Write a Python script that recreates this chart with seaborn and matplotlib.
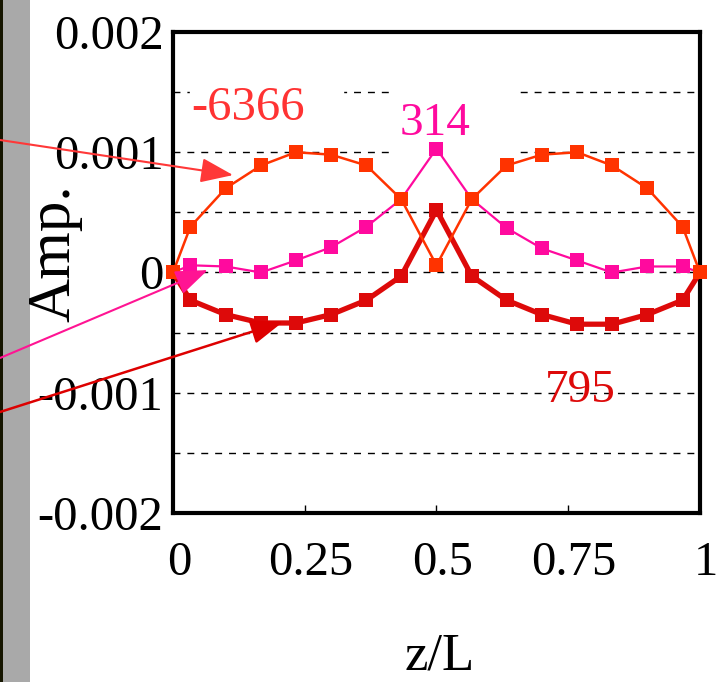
import matplotlib
matplotlib.use("Agg")
import matplotlib.pyplot as plt
from matplotlib.patches import Rectangle
from matplotlib.ticker import MultipleLocator, FixedLocator
import matplotlib.transforms as mtransforms
import seaborn as sns

# values
z = [0, 0.033, 0.1, 0.167, 0.233, 0.3, 0.367, 0.433, 0.5,
     0.567, 0.633, 0.7, 0.767, 0.833, 0.9, 0.967, 1]
amp_6366 = [0, 0.00038, 0.00070, 0.00089, 0.00100, 0.00098, 0.00089, 0.00061, 0.00006,
            0.00061, 0.00089, 0.00098, 0.00100, 0.00089, 0.00070, 0.00038, 0]
amp_314 = [0, 0.00006, 0.00005, 0.0, 0.00010, 0.00021, 0.00038, 0.00061, 0.00103,
           0.00061, 0.00037, 0.00020, 0.00010, 0.0, 0.00005, 0.00005, 0]
amp_795 = [0, -0.00023, -0.00035, -0.00042, -0.00042, -0.00035, -0.00023, -0.00003, 0.00052,
           -0.00003, -0.00023, -0.00035, -0.00043, -0.00043, -0.00035, -0.00023, 0]

yticks = [-0.002, -0.001, 0, 0.001, 0.002]
ytick_labels = ["-0.002", "-0.001", "0", "0.001", "0.002"]
xticks = [0, 0.25, 0.5, 0.75, 1]
xtick_labels = ["0", "0.25", "0.5", "0.75", "1"]

c_orange = "#FF3300"
c_pink = "#FF0A9E"
c_red = "#DD0A0A"

sns.set_theme(style="white")
plt.rcParams["font.family"] = ["Liberation Serif", "DejaVu Serif"]

fig = plt.figure(figsize=(7.25, 6.82), dpi=100)
ax = fig.add_axes([0.2386, 0.2478, 0.7269, 0.7053])
ax.set_zorder(1)
ax.patch.set_alpha(0)

# grey strip at the left edge (below everything)
strip = Rectangle((3 / 725, 0), 27 / 725, 1, transform=fig.transFigure,
                  facecolor="#A9A9A9", edgecolor="none", zorder=-2)
edge = Rectangle((0, 0), 3 / 725, 1, transform=fig.transFigure,
                 facecolor="#151500", edgecolor="none", zorder=-2)
fig.add_artist(strip)
fig.add_artist(edge)

# series
sns.lineplot(x=z, y=amp_795, ax=ax, color=c_red, lw=3.8, marker="s", markersize=9.5,
             markeredgewidth=0, clip_on=False, zorder=3)
sns.lineplot(x=z, y=amp_314, ax=ax, color=c_pink, lw=1.6, marker="s", markersize=9.5,
             markeredgewidth=0, clip_on=False, zorder=4)
sns.lineplot(x=z, y=amp_6366, ax=ax, color=c_orange, lw=1.8, marker="s", markersize=9.5,
             markeredgewidth=0, clip_on=False, zorder=5)

ax.set_xlim(0, 1)
ax.set_ylim(-0.002, 0.002)

# dashed grid every 0.0005
ax.yaxis.set_major_locator(FixedLocator(yticks))
ax.yaxis.set_minor_locator(MultipleLocator(0.0005))
ax.grid(axis="y", which="both", color="black", lw=1, ls=(0, (5, 5)), zorder=1)
ax.grid(axis="x", visible=False)
ax.set_axisbelow(True)

# white label backgrounds that break the grid
ax.add_patch(Rectangle((0.032, 0.85), 0.291, 0.05, transform=ax.transAxes,
                       color="white", zorder=1.5))
ax.add_patch(Rectangle((0.417, 0.72), 0.232, 0.18, transform=ax.transAxes,
                       color="white", zorder=1.5))

ax.set_yticks(yticks)
ax.set_yticklabels(ytick_labels)
ax.set_xticks(xticks)
ax.set_xticklabels(xtick_labels)
ax.tick_params(axis="y", which="both", length=0, pad=7, labelsize=35, labelcolor="black")
ax.tick_params(axis="x", which="major", direction="in", length=6, width=1, color="black",
               pad=20, labelsize=35, labelcolor="black", bottom=True, top=False)
shift = mtransforms.ScaledTranslation(6 / 100, 0, fig.dpi_scale_trans)
for lab in ax.get_xticklabels():
    lab.set_transform(lab.get_transform() + shift)

for sp in ax.spines.values():
    sp.set_color("black")
    sp.set_linewidth(3)

ax.set_xlabel("z/L", fontsize=38, color="black")
ax.xaxis.set_label_coords(0.507, -0.326)
ax.xaxis.label.set_va("baseline")
ax.set_ylabel("Amp.", fontsize=44, color="black")
ax.yaxis.set_label_coords(-0.224, 0.54)
ax.yaxis.label.set_va("center")

# series labels
ax.text(0.143, 0.00127, "-6366", color="#FF3333", fontsize=35, ha="center", va="baseline", zorder=6)
ax.text(0.497, 0.001146, "314", color=c_pink, fontsize=34, ha="center", va="baseline", zorder=6)
ax.text(0.772, -0.00108, "795", color=c_red, fontsize=34, ha="center", va="baseline", zorder=6)

# arrows coming in from the left
arrows = [((0.114, 0.00081), 542, "#FF3838", 1.5),
          ((0.066, 0.00002), 324, "#FF1493", 1.5),
          ((0.209, -0.00041), 270, "#DD0000", 1.8)]
for tip, tail_y, col, lw in arrows:
    ax.annotate("", xy=tip, xycoords="data", xytext=(0, tail_y), textcoords="figure pixels",
                annotation_clip=False,
                arrowprops=dict(arrowstyle="-|>,head_length=1.0,head_width=0.38",
                                mutation_scale=20, color=col, lw=lw,
                                shrinkA=0, shrinkB=0, clip_on=False), zorder=7)

fig.savefig("out.png", dpi=100)
